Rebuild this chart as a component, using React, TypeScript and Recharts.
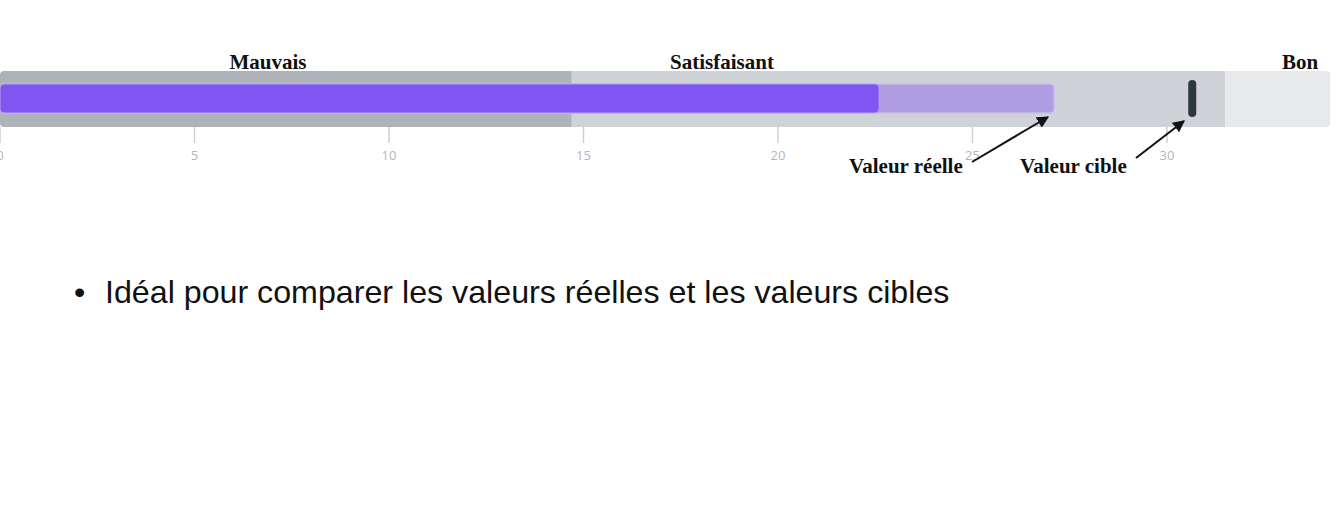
import React from "react";
import { Bar, BarChart, XAxis, YAxis } from "recharts";

const categories = ["Score"];
const bandNames = ["Mauvais", "Satisfaisant", "Bon"];
const bandEdges = [0, 14.7, 31.5, 34.2];
const actualValues = [22.6];
const projectedValues = [27.1];
const targetValues = [30.65];
const xTicks = [0, 5, 10, 15, 20, 25, 30];

const data = categories.map((name, i) => ({
  name,
  actual: actualValues[i],
  projected: projectedValues[i],
  target: targetValues[i],
}));

const BAND_COLORS = ["#aeb3b9", "#cfd2d6", "#e8e9eb"];

// short dark mark drawn at the end of the target bar
const TargetMarker = (props: any) => {
  const { x, y, width, height } = props;
  const cx = x + width;
  const cy = y + height / 2;
  return (
    <rect
      x={cx - 4}
      y={cy - 18.5}
      width={8}
      height={37}
      rx={4}
      fill="#2f373e"
    />
  );
};

const serif: React.CSSProperties = {
  position: "absolute",
  fontFamily: "'Liberation Serif', 'Times New Roman', serif",
  fontWeight: 700,
  fontSize: 21,
  color: "#111",
  whiteSpace: "nowrap",
  lineHeight: 1,
};

export default function App() {
  return (
    <div
      style={{
        position: "absolute",
        left: 0,
        top: 0,
        width: 1342,
        height: 509,
        background: "#fff",
        overflow: "hidden",
      }}
    >
      <BarChart
        width={1342}
        height={200}
        data={data}
        layout="vertical"
        margin={{ top: 70, right: 0, bottom: 43, left: 0 }}
        barCategoryGap={0}
        barGap={0}
      >
        <XAxis
          type="number"
          domain={[0, 34.5]}
          ticks={xTicks}
          interval={0}
          axisLine={false}
          tickSize={16}
          tickMargin={8}
          height={30}
          tickLine={{ stroke: "#cdd1d7", strokeWidth: 1.5 }}
          tick={{ fontSize: 13, fill: "#b0b6bf", fontFamily: "'Open Sans', sans-serif" }}
          allowDataOverflow
        />
        <YAxis yAxisId="band" type="category" dataKey="name" hide />
        <YAxis yAxisId="proj" type="category" dataKey="name" hide />
        <YAxis yAxisId="act" type="category" dataKey="name" hide />
        <YAxis yAxisId="tgt" type="category" dataKey="name" hide />
        {bandNames.map((b, i) => (
          <Bar
            key={b}
            name={b}
            yAxisId="band"
            stackId="bands"
            dataKey={() => bandEdges[i + 1] - bandEdges[i]}
            fill={BAND_COLORS[i]}
            barSize={56}
            isAnimationActive={false}
            radius={i === 0 ? [4, 0, 0, 4] : i === bandNames.length - 1 ? [0, 4, 4, 0] : 0}
          />
        ))}
        <Bar
          yAxisId="proj"
          dataKey="projected"
          fill="#b09de2"
          stroke="#cbbcf0"
          strokeWidth={1.5}
          barSize={29}
          radius={4}
          isAnimationActive={false}
        />
        <Bar
          yAxisId="act"
          dataKey="actual"
          fill="#8155f1"
          stroke="#b7a2f4"
          strokeWidth={1}
          barSize={29}
          radius={4}
          isAnimationActive={false}
        />
        <Bar
          yAxisId="tgt"
          dataKey="target"
          fill="none"
          barSize={37}
          shape={TargetMarker}
          isAnimationActive={false}
        />
      </BarChart>

      <div style={{ ...serif, left: 268, top: 52, transform: "translateX(-50%)" }}>
        {bandNames[0]}
      </div>
      <div style={{ ...serif, left: 722, top: 52, transform: "translateX(-50%)" }}>
        {bandNames[1]}
      </div>
      <div style={{ ...serif, left: 1300, top: 52, transform: "translateX(-50%)" }}>
        {bandNames[2]}
      </div>
      <div style={{ ...serif, left: 849, top: 156 }}>Valeur réelle</div>
      <div style={{ ...serif, left: 1020, top: 156 }}>Valeur cible</div>

      <svg
        width={1342}
        height={200}
        style={{ position: "absolute", left: 0, top: 0, pointerEvents: "none" }}
      >
        <defs>
          <marker
            id="arrow"
            viewBox="0 0 10 10"
            refX="9"
            refY="5"
            markerWidth="6"
            markerHeight="6"
            orient="auto"
          >
            <path d="M0,0 L10,5 L0,10 z" fill="#111" />
          </marker>
        </defs>
        <line x1={972} y1={162} x2={1048} y2={117} stroke="#111" strokeWidth={2} markerEnd="url(#arrow)" />
        <line x1={1136} y1={158} x2={1184} y2={121} stroke="#111" strokeWidth={2} markerEnd="url(#arrow)" />
      </svg>

      <div
        style={{
          position: "absolute",
          left: 74,
          top: 273,
          fontFamily: "'Liberation Sans', Arial, sans-serif",
          fontSize: 32.2,
          color: "#111",
          whiteSpace: "nowrap",
          lineHeight: 1.2,
        }}
      >
        <span style={{ display: "inline-block", width: 31 }}>•</span>
        Idéal pour comparer les valeurs réelles et les valeurs cibles
      </div>
    </div>
  );
}
